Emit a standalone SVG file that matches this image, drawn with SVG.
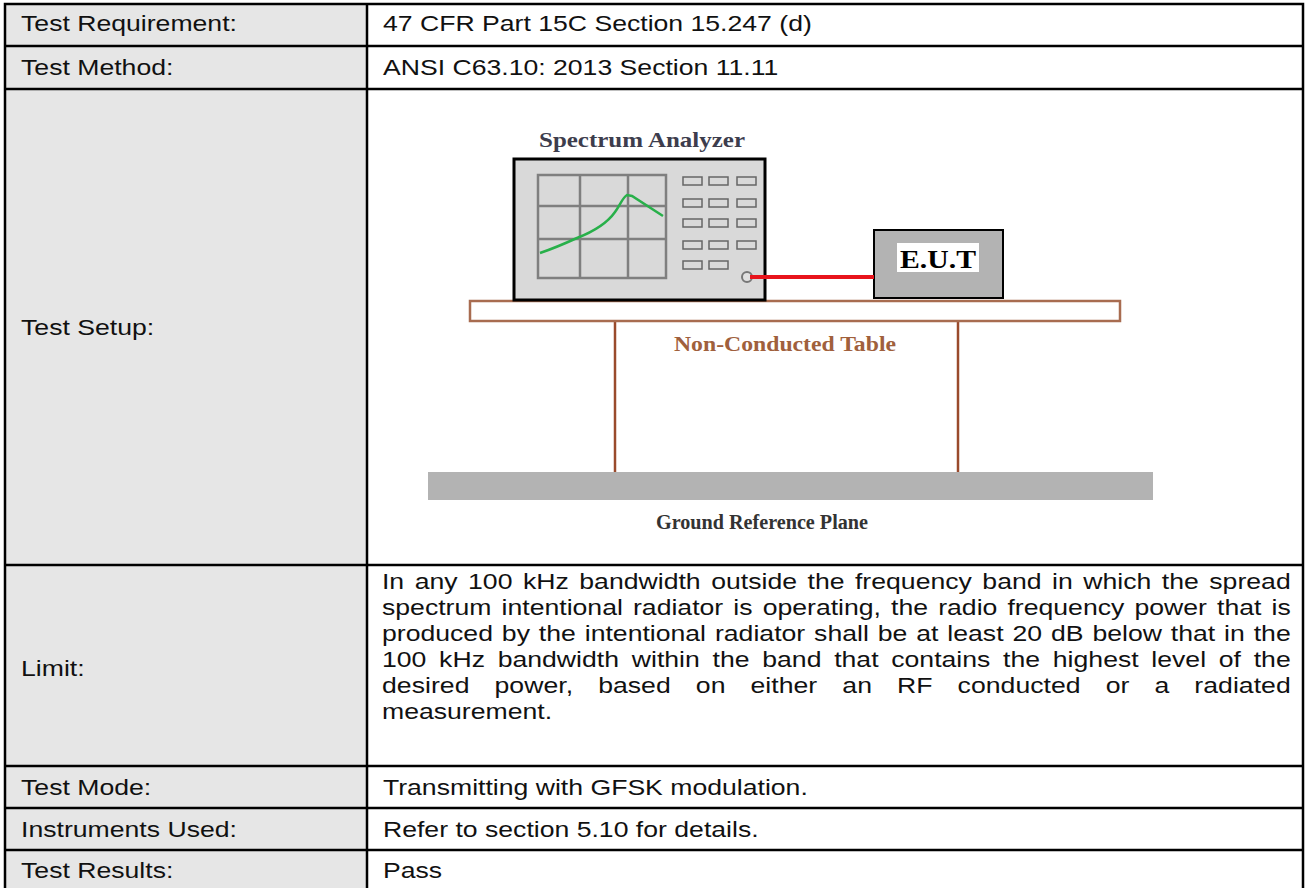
<svg xmlns="http://www.w3.org/2000/svg" width="1308" height="888" viewBox="0 0 1308 888">
<style>
.cell{font-family:"Liberation Sans",Arial,sans-serif;font-size:22px;fill:#111}
.grid{stroke:#000;stroke-width:2.5;fill:none}
.btn{fill:#d9d9d9;stroke:#666;stroke-width:1.5}
.scr{stroke:#7f7f7f;stroke-width:2.5;fill:none}
.serif{font-family:"Liberation Serif","Times New Roman",serif;font-weight:bold}
</style>
<rect x="0" y="0" width="1308" height="888" fill="#fff"/>
<g id="table-grid">
  <rect x="5" y="4" width="362" height="884" fill="#e6e6e6"/>
  <path class="grid" d="M5,888 V4 H1303 V888 M367,4 V888 M5,46 H1303 M5,89 H1303 M5,565 H1303 M5,766 H1303 M5,808 H1303 M5,850 H1303"/>
</g>
<g id="table-text" transform="scale(1.21 1)">
  <text class="cell" x="17.4" y="31">Test Requirement:</text>
  <text class="cell" x="17.4" y="75">Test Method:</text>
  <text class="cell" x="17.4" y="335">Test Setup:</text>
  <text class="cell" x="17.4" y="676">Limit:</text>
  <text class="cell" x="17.4" y="795">Test Mode:</text>
  <text class="cell" x="17.4" y="837">Instruments Used:</text>
  <text class="cell" x="17.4" y="878">Test Results:</text>
  <text class="cell" x="316.5" y="31">47 CFR Part 15C Section 15.247 (d)</text>
  <text class="cell" x="316.5" y="75">ANSI C63.10: 2013 Section 11.11</text>
  <text class="cell" x="315.7" y="589" word-spacing="2.56" textLength="751" lengthAdjust="spacing">In any 100 kHz bandwidth outside the frequency band in which the spread</text>
  <text class="cell" x="315.7" y="615" word-spacing="2.22" textLength="751" lengthAdjust="spacing">spectrum intentional radiator is operating, the radio frequency power that is</text>
  <text class="cell" x="315.7" y="641" word-spacing="1.24" textLength="751" lengthAdjust="spacing">produced by the intentional radiator shall be at least 20 dB below that in the</text>
  <text class="cell" x="315.7" y="667" word-spacing="4.39" textLength="751" lengthAdjust="spacing">100 kHz bandwidth within the band that contains the highest level of the</text>
  <text class="cell" x="315.7" y="693" word-spacing="14.57" textLength="751" lengthAdjust="spacing">desired power, based on either an RF conducted or a radiated</text>
  <text class="cell" x="315.7" y="719">measurement.</text>
  <text class="cell" x="316.5" y="795">Transmitting with GFSK modulation.</text>
  <text class="cell" x="316.5" y="837">Refer to section 5.10 for details.</text>
  <text class="cell" x="316.5" y="878">Pass</text>
</g>
<g id="ground">
  <rect x="428" y="472" width="725" height="28" fill="#b3b3b3"/>
  <text class="serif" x="762" y="529" text-anchor="middle" font-size="20" fill="#333" textLength="212" lengthAdjust="spacingAndGlyphs">Ground Reference Plane</text>
</g>
<g id="table">
  <line x1="615" y1="321" x2="615" y2="472" stroke="#9a4a2c" stroke-width="2.5"/>
  <line x1="958" y1="321" x2="958" y2="472" stroke="#9a4a2c" stroke-width="2.5"/>
  <rect x="470" y="301" width="650" height="20" fill="#fff" stroke="#a86c50" stroke-width="2.5"/>
  <text class="serif" x="785" y="351" text-anchor="middle" font-size="20" fill="#a0603c" textLength="222" lengthAdjust="spacingAndGlyphs">Non-Conducted Table</text>
</g>
<g id="spectrum-analyzer">
  <text class="serif" x="642" y="147" text-anchor="middle" font-size="22" fill="#3d3d4d" textLength="206" lengthAdjust="spacingAndGlyphs">Spectrum Analyzer</text>
  <rect x="514" y="159" width="251" height="141" fill="#d9d9d9" stroke="#000" stroke-width="3"/>
  <rect class="scr" x="538" y="175" width="128" height="103"/>
  <path class="scr" d="M580,175 V278 M628,175 V278 M537,206 H666 M538,239 H666"/>
  <path d="M540,253 C555,248 566,243 577,238 C595,231 608,222 615,212 C620,205 623,197 627,195 L632,196 L663,216" fill="none" stroke="#28b04a" stroke-width="2.5"/>
  <g>
    <rect class="btn" x="683" y="177" width="19" height="8"/>
    <rect class="btn" x="709" y="177" width="19" height="8"/>
    <rect class="btn" x="737" y="177" width="19" height="8"/>
    <rect class="btn" x="683" y="199" width="19" height="8"/>
    <rect class="btn" x="709" y="199" width="19" height="8"/>
    <rect class="btn" x="737" y="199" width="19" height="8"/>
    <rect class="btn" x="683" y="219" width="19" height="8"/>
    <rect class="btn" x="709" y="219" width="19" height="8"/>
    <rect class="btn" x="737" y="219" width="19" height="8"/>
    <rect class="btn" x="683" y="241" width="19" height="8"/>
    <rect class="btn" x="709" y="241" width="19" height="8"/>
    <rect class="btn" x="737" y="241" width="19" height="8"/>
    <rect class="btn" x="683" y="261" width="19" height="8"/>
    <rect class="btn" x="709" y="261" width="19" height="8"/>
  </g>
  <circle cx="747" cy="277" r="5" fill="#e0e0e0" stroke="#777" stroke-width="2"/>
</g>
<g id="eut">
  <rect x="874" y="230" width="129" height="68" fill="#b3b3b3" stroke="#000" stroke-width="2"/>
  <rect x="897" y="243" width="82" height="29" fill="#fff"/>
  <text class="serif" x="938" y="268" text-anchor="middle" font-size="26" fill="#000" textLength="76" lengthAdjust="spacingAndGlyphs">E.U.T</text>
</g>
<g id="connectors">
  <line x1="750" y1="277" x2="874" y2="277" stroke="#e8141c" stroke-width="4"/>
</g>
</svg>
